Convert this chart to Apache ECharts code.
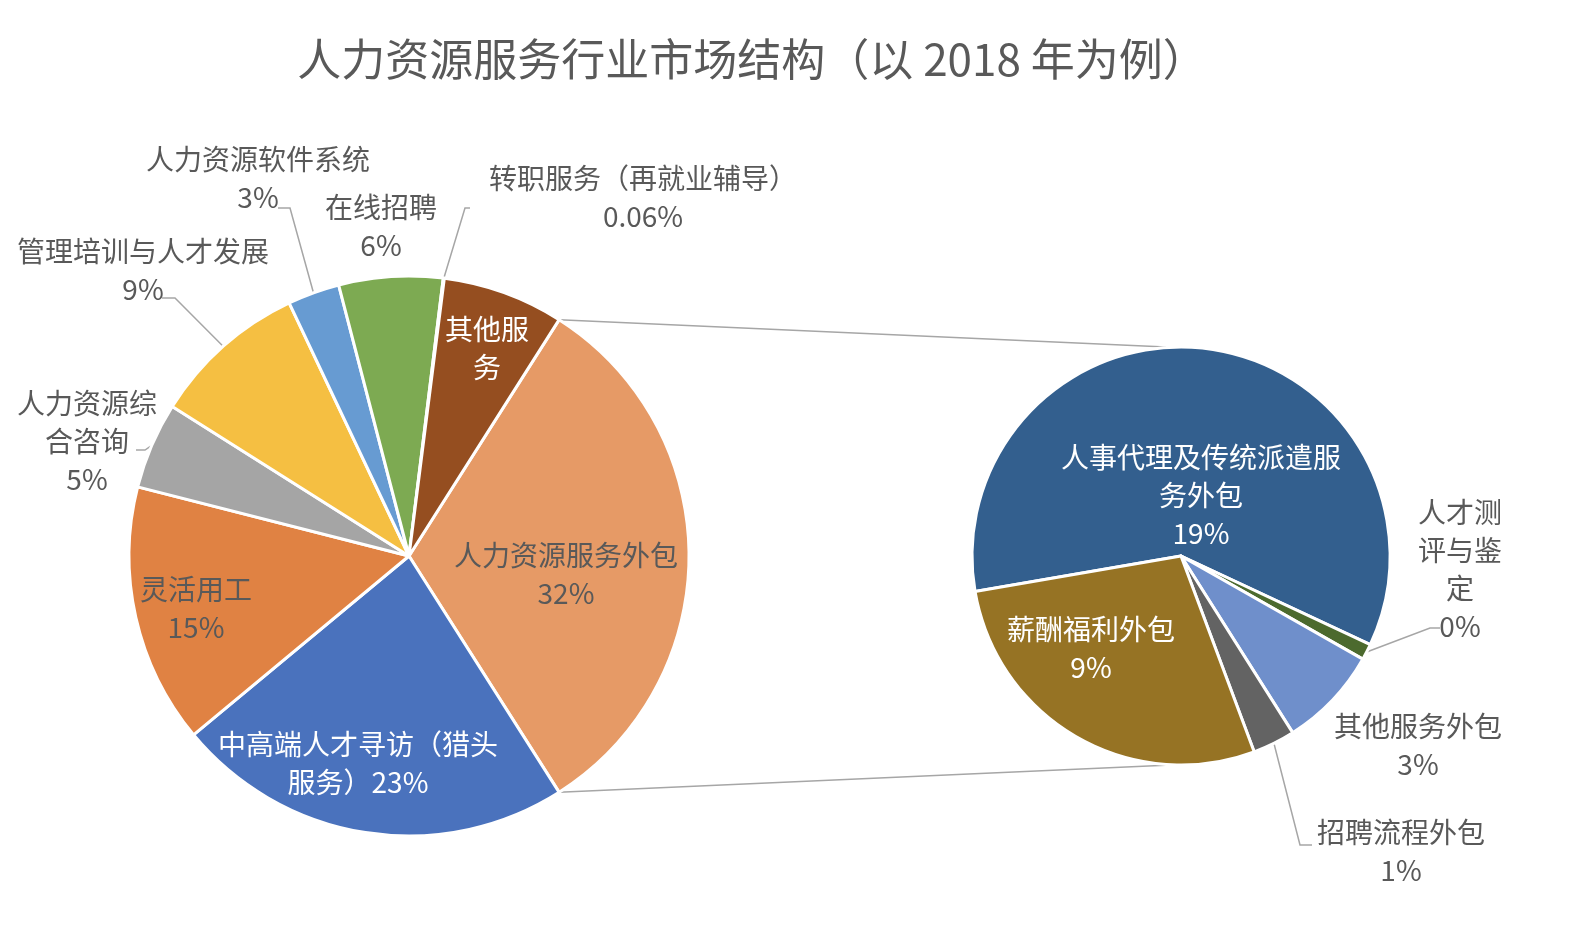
<!DOCTYPE html>
<html>
<head>
<meta charset="utf-8">
<script src="https://cdn.jsdelivr.net/npm/echarts@6/dist/echarts.min.js"></script>
<style>
  html, body { margin: 0; padding: 0; background: #fff; overflow: hidden; }
  #chart { width: 100vw; height: 100vh; }
</style>
</head>
<body>
<div id="chart"></div>
<script>
// 主饼图（2018 年人力资源服务行业市场结构，%）
var leftNames = ['人力资源服务外包', '中高端人才寻访（猎头服务）', '灵活用工', '人力资源综合咨询',
  '管理培训与人才发展', '人力资源软件系统', '在线招聘', '转职服务（再就业辅导）', '其他服务'];
var leftValues = [32, 23, 15, 5, 9, 3, 6, 0.06, 7];
var leftWrapped = ['人力资源服务外包\n', '中高端人才寻访（猎头\n服务）', '灵活用工\n', '人力资源综\n合咨询\n',
  '管理培训与人才发展\n', '人力资源软件系统\n', '在线招聘\n', '转职服务（再就业辅导）\n', '其他服\n务'];
var leftColors = ['#E69A66', '#4A72BD', '#E08243', '#A5A5A5', '#F5BF42', '#679BD2', '#7DAA52', '#2F4F7F', '#954E20'];

// 子饼图：人力资源服务外包 拆分
var rightNames = ['人事代理及传统派遣服务外包', '人才测评与鉴定', '其他服务外包', '招聘流程外包', '薪酬福利外包'];
var rightValues = [19.1, 0.4, 2.5, 1.05, 8.95];
var rightWrapped = ['人事代理及传统派遣服\n务外包\n', '人才测\n评与鉴\n定\n', '其他服务外包\n', '招聘流程外包\n', '薪酬福利外包\n'];
var rightColors = ['#335F8E', '#4C6A2E', '#6F8FCB', '#636363', '#967324'];

var FONT = '"Noto Sans CJK SC", "Noto Sans", sans-serif';
var GRAY = '#595959';
var LINE = '#A6A6A6';

var dom = document.getElementById('chart');
var myChart = echarts.init(dom);
var sx = myChart.getWidth() / 1594;
var sy = myChart.getHeight() / 940;
var s = Math.min(sx, sy);

var cx1 = 409 * sx, cy1 = 556 * sy, r1 = 280 * s;
var cx2 = 1181 * sx, cy2 = 556 * sy, r2 = 209 * s;

var leftInside = { 0: GRAY, 1: '#fff', 2: GRAY, 8: '#fff' };
var rightInside = { 0: '#fff', 4: '#fff' };

// 标签中心位置（按 1594×940 画布）
var labelPos = {
  '0-0': [566, 574], '0-1': [358, 763], '0-2': [196, 608], '0-3': [87, 441],
  '0-4': [143, 270], '0-5': [258, 178], '0-6': [381, 226], '0-7': [643, 197], '0-8': [487, 348],
  '1-0': [1201, 495], '1-1': [1460, 569], '1-2': [1418, 745], '1-3': [1401, 851], '1-4': [1091, 648]
};
// 引导线末端（靠近标签的一端）及折点方向
var lineEnd = {
  '0-3': [[136, 450], 9],
  '0-4': [[162, 298], 13],
  '0-5': [[278, 208], 12],
  '0-7': [[470, 208], -5],
  '1-1': [[1440, 628], -10],
  '1-3': [[1312, 845], -12]
};

var leftSum = leftValues.reduce(function (a, b) { return a + b; }, 0);
var rightSum = rightValues.reduce(function (a, b) { return a + b; }, 0);
var halfAngle = leftValues[0] / leftSum * 180;
var rightStart = 189.8;

// 计算扇区外缘中点（顺时针，从 startAngle 起）
function edgePoint(values, sum, start, i, cx, cy, r) {
  var acc = 0;
  for (var k = 0; k < i; k++) acc += values[k];
  var mid = start - (acc + values[i] / 2) / sum * 360;
  var rad = mid * Math.PI / 180;
  return [cx + r * Math.cos(rad), cy - r * Math.sin(rad)];
}

function buildData(names, values, colors, inside, si) {
  return names.map(function (n, i) {
    var item = { name: n, value: values[i], itemStyle: { color: colors[i] } };
    if (inside[i]) {
      item.label = { position: 'inside', color: inside[i] };
    }
    item.labelLine = { show: !!lineEnd[si + '-' + i] };
    return item;
  });
}

function makeLayout(si) {
  return function (p) {
    var key = si + '-' + p.dataIndex;
    var pos = labelPos[key];
    if (!pos) return {};
    var out = { x: pos[0] * sx, y: pos[1] * sy, align: 'center', verticalAlign: 'middle' };
    var le = lineEnd[key];
    if (le) {
      var e = si === 0
        ? edgePoint(leftValues, leftSum, halfAngle, p.dataIndex, cx1, cy1, r1)
        : edgePoint(rightValues, rightSum, rightStart, p.dataIndex, cx2, cy2, r2);
      var end = [le[0][0] * sx, le[0][1] * sy];
      var elbow = [end[0] + le[1] * sx, end[1]];
      out.labelLinePoints = [e, elbow, end];
    }
    return out;
  };
}

var labelCommon = {
  show: true,
  fontFamily: FONT,
  fontSize: 28 * s,
  lineHeight: 38 * s,
  color: GRAY,
  align: 'center'
};

var th = halfAngle * Math.PI / 180;
var p1 = [cx1 + r1 * Math.cos(th), cy1 - r1 * Math.sin(th)];
var p2 = [cx1 + r1 * Math.cos(th), cy1 + r1 * Math.sin(th)];

myChart.setOption({
  animation: false,
  title: {
    text: '人力资源服务行业市场结构（以 2018 年为例）',
    left: 747 * sx,
    top: 32 * sy,
    textAlign: 'center',
    textStyle: { fontFamily: FONT, fontSize: 44 * s, fontWeight: 'normal', color: GRAY }
  },
  graphic: [
    { type: 'line', z: 0, shape: { x1: p1[0], y1: p1[1], x2: cx2 - 15 * s, y2: cy2 - r2 },
      style: { stroke: LINE, lineWidth: 1.5 } },
    { type: 'line', z: 0, shape: { x1: p2[0], y1: p2[1], x2: cx2 - 10 * s, y2: cy2 + r2 },
      style: { stroke: LINE, lineWidth: 1.5 } }
  ],
  series: [
    {
      type: 'pie',
      z: 2,
      center: [cx1, cy1],
      radius: r1,
      startAngle: halfAngle,
      clockwise: true,
      avoidLabelOverlap: false,
      itemStyle: { borderColor: '#fff', borderWidth: 3 },
      label: Object.assign({}, labelCommon, {
        formatter: function (p) {
          var i = p.dataIndex;
          if (i === 8) return leftWrapped[i];
          return leftWrapped[i] + leftValues[i] + '%';
        }
      }),
      labelLine: { lineStyle: { color: LINE, width: 1.5 } },
      labelLayout: makeLayout(0),
      data: buildData(leftNames, leftValues, leftColors, leftInside, 0)
    },
    {
      type: 'pie',
      z: 2,
      center: [cx2, cy2],
      radius: r2,
      startAngle: rightStart,
      clockwise: true,
      avoidLabelOverlap: false,
      itemStyle: { borderColor: '#fff', borderWidth: 3 },
      label: Object.assign({}, labelCommon, {
        formatter: function (p) {
          return rightWrapped[p.dataIndex] + Math.round(rightValues[p.dataIndex]) + '%';
        }
      }),
      labelLine: { lineStyle: { color: LINE, width: 1.5 } },
      labelLayout: makeLayout(1),
      data: buildData(rightNames, rightValues, rightColors, rightInside, 1)
    }
  ]
});
</script>
</body>
</html>
